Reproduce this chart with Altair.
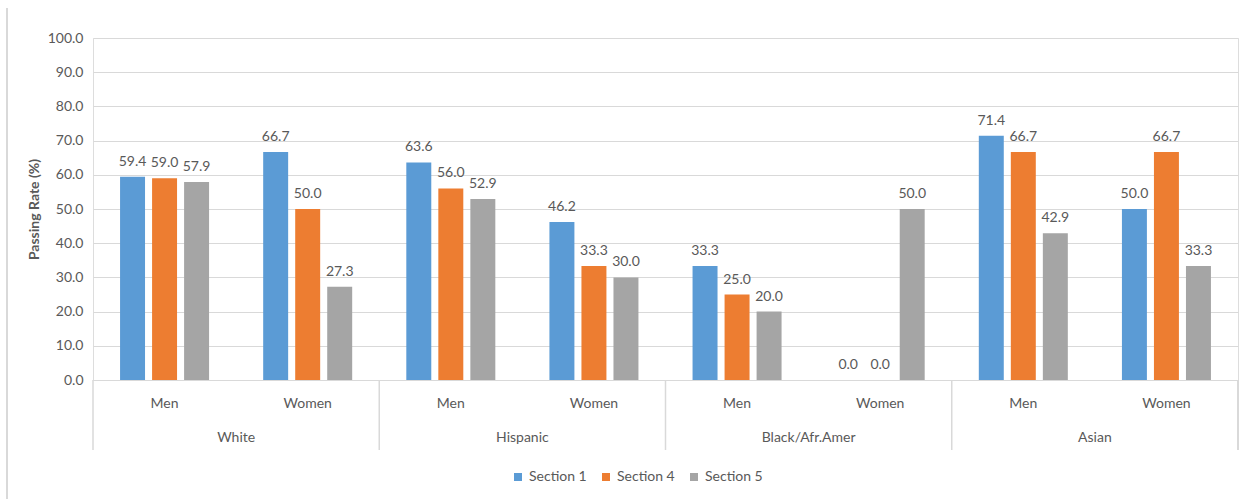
import altair as alt
import pandas as pd

races = ["White", "Hispanic", "Black/Afr.Amer", "Asian"]
genders = ["Men", "Women"]
sections = ["Section 1", "Section 4", "Section 5"]
section1 = [59.4, 66.7, 63.6, 46.2, 33.3, 0.0, 71.4, 50.0]
section4 = [59.0, 50.0, 56.0, 33.3, 25.0, 0.0, 66.7, 66.7]
section5 = [57.9, 27.3, 52.9, 30.0, 20.0, 50.0, 42.9, 33.3]
y_ticks = [0, 10, 20, 30, 40, 50, 60, 70, 80, 90, 100]
colors = ["#5B9BD5", "#ED7D31", "#A5A5A5"]

rows = []
keys = []
i = 0
for r in races:
    for g in genders:
        key = r + "|" + g
        keys.append(key)
        for s, vals in zip(sections, [section1, section4, section5]):
            rows.append({"key": key, "race": r, "gender": g, "section": s, "value": vals[i]})
        i += 1
df = pd.DataFrame(rows)
race_df = pd.DataFrame({"race": races})

FONT = "Lato"
TXT = "#595959"
GRID = "#D9D9D9"
W, H = 1145, 342

x_axis = alt.Axis(labelExpr="split(datum.label, '|')[1]", labelAngle=0,
                  ticks=False, domainColor=GRID, labelPadding=16,
                  labelFontSize=14, labelColor=TXT, labelFont=FONT, grid=False)
x_enc = alt.X("key:N", sort=keys, title=None,
              scale=alt.Scale(paddingInner=0, paddingOuter=0), axis=x_axis)
xoff = alt.XOffset("section:N", sort=sections,
                   scale=alt.Scale(paddingInner=0.22, paddingOuter=0.845))
y_axis = alt.Axis(values=y_ticks, format=".1f", ticks=False, labelOverlap=False,
                  domain=False, gridColor=GRID, labelPadding=10,
                  labelFontSize=14, labelColor=TXT, labelFont=FONT,
                  titleFont=FONT, titleFontSize=14, titleColor=TXT,
                  titleFontWeight="bold", titlePadding=6)
y_enc = alt.Y("value:Q", title="Passing Rate (%)",
              scale=alt.Scale(domain=[0, 100], nice=False), axis=y_axis)

bars = alt.Chart(df).mark_bar().encode(
    x=x_enc,
    xOffset=xoff,
    y=y_enc,
    color=alt.Color("section:N", sort=sections,
                    scale=alt.Scale(domain=sections, range=colors),
                    legend=alt.Legend(title=None, orient="none", direction="horizontal",
                                      legendX=418, legendY=432, symbolType="square",
                                      symbolSize=64, labelFontSize=14, labelColor=TXT,
                                      labelFont=FONT, columnPadding=12, symbolStrokeWidth=0,
                                      labelOffset=4)),
)

labels = alt.Chart(df).mark_text(baseline="bottom", dy=-8, fontSize=14, color=TXT, font=FONT).encode(
    x=x_enc,
    xOffset=xoff,
    y=y_enc,
    text=alt.Text("value:Q", format=".1f"),
)

main = alt.layer(bars, labels)

rx = alt.X("race:N", sort=races, scale=alt.Scale(domain=races, paddingInner=0, paddingOuter=0), axis=None)
race_text = alt.Chart(race_df).mark_text(baseline="middle", fontSize=14, color=TXT, font=FONT).encode(
    x=rx, y=alt.value(H + 58), text="race:N")
seps = alt.Chart(race_df).mark_rule(color=GRID, strokeWidth=1.5).encode(
    x=alt.X("race:N", sort=races, bandPosition=0,
            scale=alt.Scale(domain=races, paddingInner=0, paddingOuter=0), axis=None),
    y=alt.value(H), y2=alt.value(H + 70))
sep_end = alt.Chart(race_df).mark_rule(color=GRID, strokeWidth=1.5).encode(
    x=alt.value(W), y=alt.value(H), y2=alt.value(H + 70))
border = alt.Chart(race_df).mark_rule(color=GRID, strokeWidth=1.5).encode(
    x=alt.value(-86), y=alt.value(-30), y2=alt.value(H + 130))

chart = alt.layer(main, race_text, seps, sep_end, border).resolve_scale(x="independent").properties(
    width=W, height=H,
    autosize=alt.AutoSizeParams(type="none"),
    padding={"left": 93, "top": 38, "right": 10, "bottom": 119},
).configure_view(stroke=None).configure(background="white")

chart.save("out.html", embed_options={"renderer": "svg", "actions": False})
